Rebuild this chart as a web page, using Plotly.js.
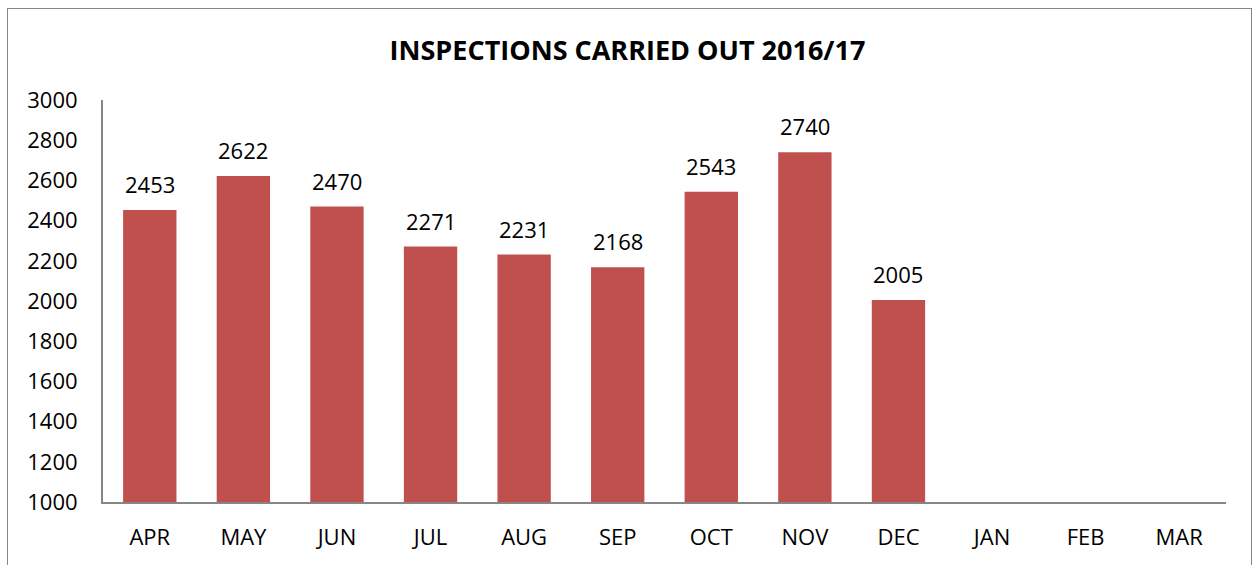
<!DOCTYPE html>
<html><head><meta charset="utf-8">
<script src="https://cdn.plot.ly/plotly-3.0.1.min.js"></script>
<style>
html,body{margin:0;padding:0;background:#fff;}
#wrap{position:relative;width:1255px;height:565px;}
#chart{position:absolute;left:0;top:0;width:1255px;height:565px;}
#frame{position:absolute;left:7px;top:8px;width:1243px;height:570px;border:1px solid #868686;pointer-events:none;}
</style></head>
<body><div id="wrap"><div id="chart"></div><div id="frame"></div></div>
<script>
const months = ['APR','MAY','JUN','JUL','AUG','SEP','OCT','NOV','DEC','JAN','FEB','MAR'];
const inspections = [2453,2622,2470,2271,2231,2168,2543,2740,2005,null,null,null];
const yTicks = [1000,1200,1400,1600,1800,2000,2200,2400,2600,2800,3000];
const chartTitle = 'INSPECTIONS CARRIED OUT 2016/17';

const font = 'Open Sans, Liberation Sans, sans-serif';
const labels = [];
months.forEach((m,i)=>{
  if(inspections[i]!=null){
    labels.push({x:m, y:inspections[i], xref:'x', yref:'y', text:String(inspections[i]),
      showarrow:false, yanchor:'bottom', yshift:9,
      font:{family:font,size:22,color:'#000'}});
  }
});
Plotly.newPlot('chart', [{
  type:'bar', x:months, y:inspections,
  marker:{color:'#C0504D'},
  hoverinfo:'x+y'
}], {
  width:1255, height:565,
  margin:{l:103,r:29,t:100,b:63},
  paper_bgcolor:'#fff', plot_bgcolor:'#fff',
  bargap:0.43,
  annotations:labels,
  title:{text:'<b>'+chartTitle+'</b>', x:0.5, xanchor:'center', y:0.91, yanchor:'middle',
    font:{family:font,size:27,color:'#000'}},
  xaxis:{type:'category', categoryorder:'array', categoryarray:months,
    showline:true, linecolor:'#868686', linewidth:2, showgrid:false, ticks:'',
    tickfont:{family:font,size:22,color:'#000'}, ticklabelstandoff:15, fixedrange:true},
  yaxis:{range:[1000,3000], tickvals:yTicks, showline:true, linecolor:'#868686', linewidth:2,
    showgrid:false, zeroline:false, ticks:'', tickfont:{family:font,size:22,color:'#000'},
    ticklabelstandoff:19, fixedrange:true},
  showlegend:false
}, {displayModeBar:false, staticPlot:true});
</script></body></html>
